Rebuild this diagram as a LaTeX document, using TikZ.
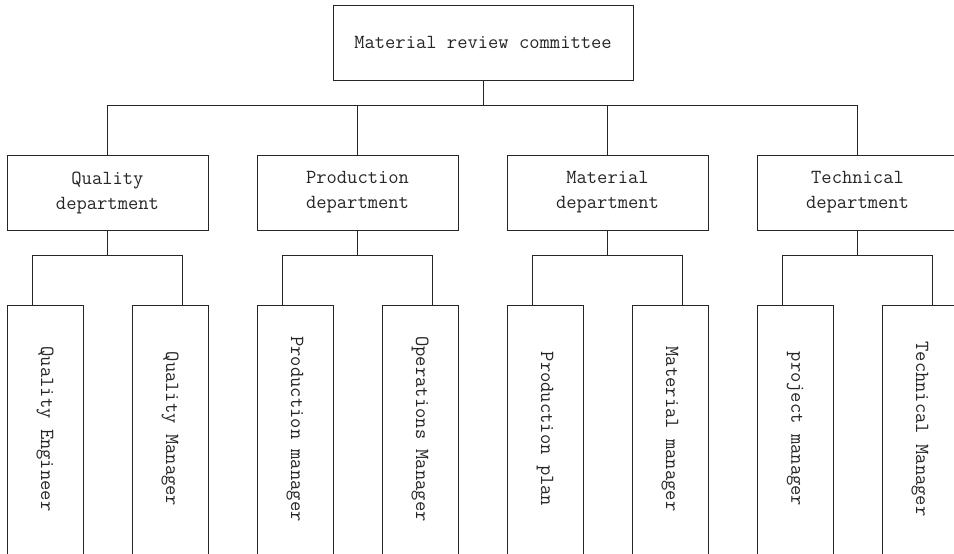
\documentclass[tikz,border=0pt]{standalone}
\usetikzlibrary{calc}
\begin{document}
\begin{tikzpicture}[x=1pt,y=-1pt,
  line width=1pt, draw=black!85,
  every node/.style={font=\ttfamily\fontsize{20}{25}\selectfont, text=black!85},
  box/.style={draw=black!85, line width=1pt, inner sep=0pt, align=center},
  topbox/.style={box, minimum width=300pt, minimum height=75pt},
  deptbox/.style={box, minimum width=201pt, minimum height=75pt},
  rolebox/.style={box, minimum width=76pt, minimum height=290pt, anchor=north},
  rolelabel/.style={rotate=-90, inner sep=0pt},
  wire/.style={draw=black!85, line width=1pt}]
\useasboundingbox (0,0) rectangle (954,554);
\clip (0,0) rectangle (954,554);

% top level
\node[topbox] (top) at (483,42.5) {Material review committee};
\coordinate (bus) at (483,105.5);
\draw[wire] (top.south) -- (bus);

% departments and their two roles each
\foreach \i/\name/\dept/\ra/\rb in {
  1/q/{Quality\\department}/{Quality Engineer}/{Quality Manager},
  2/p/{Production\\department}/{Production manager}/{Operations Manager},
  3/m/{Material\\department}/{Production plan}/{Material manager},
  4/t/{Technical\\department}/{project manager}/{Technical Manager}}{
  \pgfmathsetmacro{\cx}{107.5+250*(\i-1)}
  \node[deptbox] (\name) at (\cx,192.5) {\dept};
  \draw[wire] (\name.north) |- (bus);
  \coordinate (\name-sub) at (\cx,255);
  \draw[wire] (\name.south) -- (\name-sub);
  % left role
  \node[rolebox] (\name-a) at (\cx-62.5,305) {};
  \node[rolelabel] (\name-a-text) at (\cx-62.5,429) {\ra};
  \coordinate (\name-a-in) at ($(\name-a.north)+(-12.5,0)$);
  \draw[wire] (\name-a-in) |- (\name-sub);
  % right role
  \node[rolebox] (\name-b) at (\cx+62.5,305) {};
  \node[rolelabel] (\name-b-text) at (\cx+62.5,429) {\rb};
  \coordinate (\name-b-in) at ($(\name-b.north)+(12.5,0)$);
  \draw[wire] (\name-b-in) |- (\name-sub);
}
\end{tikzpicture}
\end{document}
